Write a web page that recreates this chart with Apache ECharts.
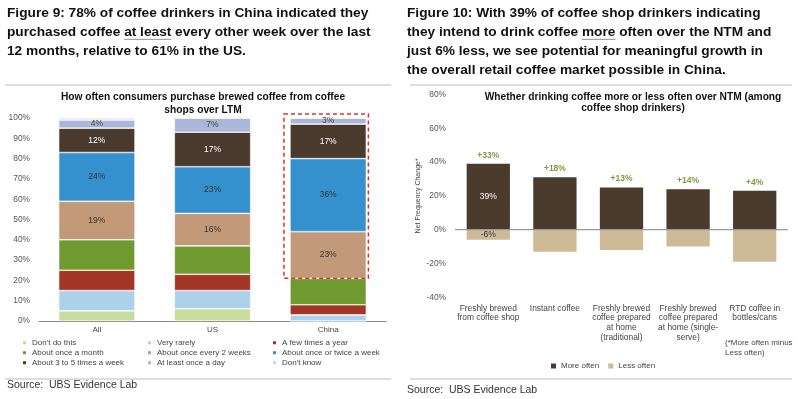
<!DOCTYPE html>
<html><head><meta charset="utf-8">
<script src="https://cdn.jsdelivr.net/npm/echarts@6/dist/echarts.min.js"></script>
<style>html,body{margin:0;padding:0;background:#fff}#c{width:800px;height:399px}</style>
</head><body><div id="c"></div>
<script>
// ---- Figure 9 data ----
const leftCategories = ['All', 'US', 'China'];
const freqNames = ["Don't do this", 'Very rarely', 'A few times a year', 'About once a month',
  'About once every 2 weeks', 'About once or twice a week', 'About 3 to 5 times a week',
  'At least once a day', "Don't know"];
const dontDo      = [5, 6, 0];
const veryRarely  = [10, 9, 3];
const fewYear     = [10, 8, 5];
const onceMonth   = [15, 14, 13];
const every2Weeks = [19, 16, 23];
const onceTwiceWk = [24, 23, 36];
const threeFiveWk = [12, 17, 17];
const onceDay     = [4, 7, 3];
const dontKnow    = [1, 0, 0];
const leftTicks = [0, 10, 20, 30, 40, 50, 60, 70, 80, 90, 100];

// ---- Figure 10 data ----
const rightCategories = ['Freshly brewed\nfrom coffee shop', 'Instant coffee',
  'Freshly brewed\ncoffee prepared\nat home\n(traditional)',
  'Freshly brewed\ncoffee prepared\nat home (single-\nserve)', 'RTD coffee in\nbottles/cans'];
const moreOften = [39, 31, 25, 24, 23];
const lessOften = [-6, -13, -12, -10, -19];
const netChange = ['+33%', '+18%', '+13%', '+14%', '+4%'];
const rightTicks = [-40, -20, 0, 20, 40, 60, 80];

const leftSeriesData = [dontDo, veryRarely, fewYear, onceMonth, every2Weeks, onceTwiceWk, threeFiveWk, onceDay, dontKnow];
const leftColors = ['#c6dd9b', '#acd2eb', '#a33524', '#6f9a2f', '#c39a79', '#3591cd', '#4a3a2d', '#a9b8d8', '#c8d3e8'];
const labelled = [false, false, false, false, true, true, true, true, false];
const labelColors = ['#333', '#333', '#fff', '#fff', '#333', '#333', '#fff', '#444', '#333'];

const FONT = 'Liberation Sans, Arial, sans-serif';
const HEAD_SIZE = 13.7;
const chart = echarts.init(document.getElementById('c'), null, {renderer: 'canvas'});

const series = leftSeriesData.map((d, i) => ({
  name: freqNames[i], type: 'bar', stack: 'f', xAxisIndex: 0, yAxisIndex: 0,
  data: d, barWidth: '66%',
  itemStyle: {color: leftColors[i], borderColor: '#fff', borderWidth: 0.6},
  label: {show: labelled[i], position: 'inside', formatter: '{c}%', fontSize: 8.5,
    fontFamily: FONT, color: labelColors[i]},
  emphasis: {disabled: true}
}));

series.push({
  name: 'More often', type: 'bar', xAxisIndex: 1, yAxisIndex: 1, data: moreOften.map((v, i) => ({
    value: v,
    label: i === 0 ? {show: true, position: 'inside', formatter: '{c}%', color: '#fff', fontSize: 8.5, fontFamily: FONT} : {show: false}
  })),
  barWidth: '65%', barGap: '-100%', itemStyle: {color: '#4a3b2d'}, emphasis: {disabled: true}
});
series.push({
  name: 'Less often', type: 'bar', xAxisIndex: 1, yAxisIndex: 1, data: lessOften.map((v, i) => ({
    value: v,
    label: i === 0 ? {show: true, position: 'inside', formatter: '{c}%', color: '#333', fontSize: 8.5, fontFamily: FONT} : {show: false}
  })),
  barWidth: '65%', barGap: '-100%', itemStyle: {color: '#cfba98'}, emphasis: {disabled: true}
});
// net labels above the "more often" bars
series.push({
  name: 'net', type: 'bar', xAxisIndex: 1, yAxisIndex: 1, data: moreOften, barWidth: '65%', barGap: '-100%',
  itemStyle: {color: 'rgba(0,0,0,0)'}, silent: true,
  label: {show: true, position: 'top', distance: 4, formatter: p => netChange[p.dataIndex],
    color: '#7d9b3f', fontSize: 8.5, fontWeight: 'bold', fontFamily: FONT}
});

const legendText = {fontSize: 8, color: '#444', fontFamily: FONT, lineHeight: 10};
function colLegend(names, left) {
  return {orient: 'vertical', left: left, top: 332.7, itemWidth: 5, itemHeight: 5, itemGap: 0,
    icon: 'rect', data: names, textStyle: legendText, selectedMode: false};
}

const head9 = ['Figure 9: 78% of coffee drinkers in China indicated they',
  'purchased coffee at least every other week over the last',
  '12 months, relative to 61% in the US.'];
const head10 = ['Figure 10: With 39% of coffee shop drinkers indicating',
  'they intend to drink coffee more often over the NTM and',
  'just 6% less, we see potential for meaningful growth in',
  'the overall retail coffee market possible in China.'];
const HEAD_LH = 19;

const option = {
  animation: false,
  textStyle: {fontFamily: FONT},
  title: [
    {text: head9.join('\n'), left: 2, top: -1, padding: 5,
      textStyle: {fontSize: HEAD_SIZE, fontWeight: 'bold', color: '#111', lineHeight: HEAD_LH, fontFamily: FONT}},
    {text: head10.join('\n'), left: 402, top: -1, padding: 5,
      textStyle: {fontSize: HEAD_SIZE, fontWeight: 'bold', color: '#111', lineHeight: HEAD_LH, fontFamily: FONT}},
    {text: 'How often consumers purchase brewed coffee from coffee\nshops over LTM', left: 198, textAlign: 'center', top: 86,
      textStyle: {fontSize: 10.2, fontWeight: 'bold', color: '#111', lineHeight: 13, fontFamily: FONT}},
    {text: 'Whether drinking coffee more or less often over NTM (among\ncoffee shop drinkers)', left: 628, textAlign: 'center', top: 86,
      textStyle: {fontSize: 10.2, fontWeight: 'bold', color: '#111', lineHeight: 11.5, fontFamily: FONT}},
    {text: 'Source:  UBS Evidence Lab', left: 2, top: 375, textStyle: {fontSize: 10.5, fontWeight: 'normal', color: '#333', fontFamily: FONT}},
    {text: 'Source:  UBS Evidence Lab', left: 402, top: 380, textStyle: {fontSize: 10.5, fontWeight: 'normal', color: '#333', fontFamily: FONT}},
    {text: '(*More often minus\nLess often)', left: 720, top: 333, textStyle: {fontSize: 8, fontWeight: 'normal', color: '#444', lineHeight: 10, fontFamily: FONT}}
  ],
  legend: [
    colLegend([freqNames[0], freqNames[3], freqNames[6]], 16),
    colLegend([freqNames[1], freqNames[4], freqNames[7]], 141),
    colLegend([freqNames[2], freqNames[5], freqNames[8]], 266),
    {orient: 'horizontal', left: 546, top: 356, itemWidth: 5, itemHeight: 5, itemGap: 9, icon: 'rect',
      data: ['More often', 'Less often'], textStyle: legendText, selectedMode: false}
  ],
  grid: [
    {left: 39, right: 414, top: 118, bottom: 78},
    {left: 455, right: 12, top: 94.5, bottom: 101.7}
  ],
  xAxis: [
    {type: 'category', gridIndex: 0, data: leftCategories,
      axisLine: {lineStyle: {color: '#888', width: 1.2}}, axisTick: {show: false},
      axisLabel: {fontSize: 8, color: '#444', margin: 5, fontFamily: FONT}},
    {type: 'category', gridIndex: 1, data: rightCategories, position: 'bottom', offset: 0,
      axisLine: {show: false}, axisTick: {show: false},
      axisLabel: {fontSize: 8.4, color: '#444', lineHeight: 9.8, margin: 6, interval: 0, fontFamily: FONT,
        verticalAlign: 'top'}}
  ],
  yAxis: [
    {type: 'value', gridIndex: 0, min: leftTicks[0], max: leftTicks[leftTicks.length - 1], interval: 10,
      splitLine: {show: false}, axisLine: {show: false}, axisTick: {show: false},
      axisLabel: {formatter: '{value}%', fontSize: 8.4, color: '#555', margin: 9, fontFamily: FONT}},
    {type: 'value', gridIndex: 1, min: rightTicks[0], max: rightTicks[rightTicks.length - 1], interval: 20,
      splitLine: {show: false}, axisLine: {show: false}, axisTick: {show: false},
      name: 'Net Frequency Change*', nameLocation: 'middle', nameRotate: 90, nameGap: 33,
      nameTextStyle: {fontSize: 7, color: '#444', fontFamily: FONT},
      axisLabel: {formatter: '{value}%', fontSize: 8.4, color: '#555', margin: 9, fontFamily: FONT}}
  ],
  series: series
};
chart.setOption(option);

// measure text to place the underlines under "at least" and "more"
const mctx = document.createElement('canvas').getContext('2d');
mctx.font = 'bold ' + HEAD_SIZE + 'px ' + FONT;
function underline(x0, lineIdx, line, word) {
  const pre = line.slice(0, line.indexOf(word));
  const x1 = x0 + mctx.measureText(pre).width;
  const x2 = x1 + mctx.measureText(word).width;
  const y = 4 + HEAD_LH * lineIdx + HEAD_LH / 2 + HEAD_SIZE * 0.5;
  return {type: 'line', shape: {x1: x1, y1: y, x2: x2, y2: y}, style: {stroke: '#777', lineWidth: 0.8}};
}

// zero line on right chart and decorative rules, dashed highlight box via the chart's scales
const z0 = chart.convertToPixel({xAxisIndex: 1, yAxisIndex: 1}, [0, 0]);
const chinaTop = chart.convertToPixel({xAxisIndex: 0, yAxisIndex: 0}, ['China', 102]);
const chinaBase = dontDo[2] + veryRarely[2] + fewYear[2] + onceMonth[2];
const chinaBot = chart.convertToPixel({xAxisIndex: 0, yAxisIndex: 0}, ['China', chinaBase]);
const bandW = chart.convertToPixel({xAxisIndex: 0}, 'US') - chart.convertToPixel({xAxisIndex: 0}, 'All');
const boxW = bandW * 0.73;
chart.setOption({
  graphic: [
    {type: 'line', shape: {x1: 455, y1: z0[1], x2: 788, y2: z0[1]}, style: {stroke: '#999', lineWidth: 1.2}, z: 10},
    {type: 'line', shape: {x1: 5, y1: 85, x2: 391, y2: 85}, style: {stroke: '#ddd', lineWidth: 2}},
    {type: 'line', shape: {x1: 410, y1: 85, x2: 792, y2: 85}, style: {stroke: '#ddd', lineWidth: 2}},
    {type: 'line', shape: {x1: 5, y1: 379, x2: 391, y2: 379}, style: {stroke: '#ddd', lineWidth: 2}},
    {type: 'line', shape: {x1: 410, y1: 379, x2: 792, y2: 379}, style: {stroke: '#ddd', lineWidth: 2}},
    underline(7, 1, head9[1], 'at least'),
    underline(407, 1, head10[1], 'more'),
    {type: 'rect', shape: {x: chinaTop[0] - 2 - boxW / 2, y: chinaTop[1], width: boxW, height: chinaBot[1] - chinaTop[1]},
      style: {fill: 'none', stroke: '#e0302a', lineWidth: 1.5, lineDash: [4, 3]}, z: 20}
  ]
});
</script></body></html>
